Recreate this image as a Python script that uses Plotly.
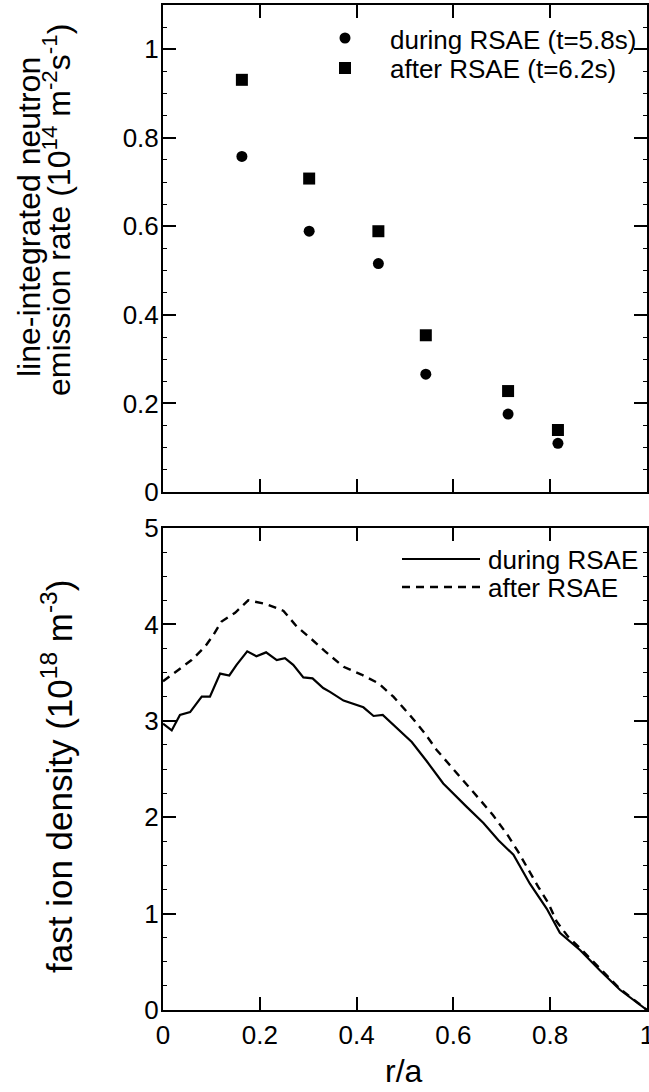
import plotly.graph_objects as go

# ---------------- data ----------------
r_emission = [0.163, 0.302, 0.445, 0.543, 0.713, 0.816]
emission_during = [0.758, 0.589, 0.516, 0.266, 0.176, 0.110]
emission_after = [0.931, 0.708, 0.589, 0.354, 0.228, 0.140]

r_density_during = [0.0, 0.018, 0.035, 0.056, 0.080, 0.097, 0.118, 0.137, 0.152, 0.174,
                    0.193, 0.213, 0.235, 0.252, 0.269, 0.290, 0.309, 0.331, 0.345, 0.373,
                    0.414, 0.435, 0.454, 0.483, 0.514, 0.545, 0.579, 0.627, 0.662, 0.693,
                    0.724, 0.758, 0.793, 0.820, 0.862, 0.903, 0.944, 1.0]
density_during = [2.97, 2.90, 3.06, 3.09, 3.25, 3.25, 3.49, 3.47, 3.58, 3.72,
                  3.67, 3.71, 3.63, 3.65, 3.58, 3.45, 3.44, 3.34, 3.30, 3.21,
                  3.14, 3.05, 3.06, 2.92, 2.78, 2.58, 2.35, 2.11, 1.94, 1.76,
                  1.61, 1.31, 1.05, 0.80, 0.62, 0.41, 0.21, 0.0]

r_density_after = [0.0, 0.032, 0.059, 0.087, 0.104, 0.121, 0.149, 0.176, 0.214, 0.249,
                   0.276, 0.304, 0.335, 0.373, 0.410, 0.445, 0.476, 0.510, 0.541, 0.565,
                   0.593, 0.627, 0.655, 0.682, 0.710, 0.734, 0.755, 0.775, 0.796, 0.813,
                   0.837, 0.862, 0.903, 0.944, 1.0]
density_after = [3.41, 3.53, 3.63, 3.77, 3.89, 4.03, 4.12, 4.25, 4.21, 4.14,
                 3.98, 3.86, 3.72, 3.56, 3.48, 3.39, 3.25, 3.06, 2.87, 2.70,
                 2.54, 2.35, 2.18, 2.02, 1.83, 1.64, 1.45, 1.28, 1.11, 0.92,
                 0.76, 0.64, 0.43, 0.22, 0.0]

x_ticks = [0, 0.2, 0.4, 0.6, 0.8, 1]
top_y_ticks = [0, 0.2, 0.4, 0.6, 0.8, 1]
bottom_y_ticks = [0, 1, 2, 3, 4, 5]
legend_top_labels = ["during RSAE (t=5.8s)", "after RSAE (t=6.2s)"]
legend_bottom_labels = ["during RSAE", "after RSAE"]

FONT = "Liberation Sans, Arial, Helvetica, sans-serif"
W, H = 649, 1092
ML, MR, MT, MB = 163, 2, 5, 82
PW, PH = W - ML - MR, H - MT - MB


def px_x(p):
    return (p - ML) / PW


def px_y(p):
    return (H - MB - p) / PH


fig = go.Figure()

fig.add_trace(go.Scatter(x=r_emission, y=emission_during, mode="markers",
                         marker=dict(symbol="circle", size=11, color="black"),
                         name=legend_top_labels[0], xaxis="x", yaxis="y"))
fig.add_trace(go.Scatter(x=r_emission, y=emission_after, mode="markers",
                         marker=dict(symbol="square", size=12, color="black"),
                         name=legend_top_labels[1], xaxis="x", yaxis="y"))
fig.add_trace(go.Scatter(x=r_density_during, y=density_during, mode="lines",
                         line=dict(color="black", width=2.2),
                         name=legend_bottom_labels[0], xaxis="x2", yaxis="y2"))
fig.add_trace(go.Scatter(x=r_density_after, y=density_after, mode="lines",
                         line=dict(color="black", width=2.4, dash="8px,6px"),
                         name=legend_bottom_labels[1], xaxis="x2", yaxis="y2"))

axis_common = dict(showline=True, linecolor="black", linewidth=2, mirror="ticks",
                   ticks="inside", ticklen=13, tickwidth=1.5, tickcolor="black",
                   showgrid=False, zeroline=False, automargin=False,
                   tickfont=dict(family=FONT, size=26, color="black"))

top_bottom_px, top_top_px = 492, 5
bot_bottom_px, bot_top_px = 1010, 528

fig.update_layout(
    template="none",
    width=W, height=H,
    margin=dict(l=ML, r=MR, t=MT, b=MB, autoexpand=False),
    paper_bgcolor="white", plot_bgcolor="white",
    showlegend=False,
    xaxis=dict(axis_common, domain=[0, 1], range=[0, 1], tickvals=x_ticks,
               showticklabels=False, anchor="y"),
    yaxis=dict(axis_common, domain=[px_y(top_bottom_px), px_y(top_top_px)], range=[0, 1.1],
               tickvals=top_y_ticks, anchor="x", ticklabelstandoff=-3,
               minor=dict(ticks="inside", ticklen=4, tickwidth=1, dtick=0.05, tickcolor="black")),
    xaxis2=dict(axis_common, domain=[0, 1], range=[0, 1], tickvals=x_ticks,
                anchor="y2", ticklabelstandoff=1, ticklabeloverflow="allow"),
    yaxis2=dict(axis_common, domain=[0, px_y(bot_top_px)], range=[0, 5],
                tickvals=bottom_y_ticks, anchor="x2", ticklabelstandoff=-3,
                minor=dict(ticks="inside", ticklen=4, tickwidth=1, dtick=0.25, tickcolor="black")),
)

title_font = dict(family=FONT, size=32, color="black")
annotations = [
    dict(text="line-integrated neutron", x=px_x(29), y=px_y(217), xref="paper", yref="paper",
         textangle=-90, showarrow=False, xanchor="center", yanchor="middle", font=title_font),
    dict(text="emission rate (10<sup>14</sup> m<sup>-2</sup>s<sup>-1</sup>)", x=px_x(57), y=px_y(210),
         xref="paper", yref="paper", textangle=-90, showarrow=False,
         xanchor="center", yanchor="middle", font=title_font),
    dict(text="fast ion density (10<sup>18</sup> m<sup>-3</sup>)", x=px_x(57), y=px_y(777),
         xref="paper", yref="paper", textangle=-90, showarrow=False,
         xanchor="center", yanchor="middle", font=dict(family=FONT, size=35, color="black")),
    dict(text="r/a", x=px_x(404), y=px_y(1071), xref="paper", yref="paper", showarrow=False,
         xanchor="center", yanchor="middle", font=dict(family=FONT, size=32, color="black")),
]

leg_font = dict(family=FONT, size=26, color="black")
annotations += [
    dict(text=legend_top_labels[0], x=px_x(388), y=px_y(40), xref="paper", yref="paper",
         showarrow=False, xanchor="left", yanchor="middle", font=leg_font),
    dict(text=legend_top_labels[1], x=px_x(388), y=px_y(69), xref="paper", yref="paper",
         showarrow=False, xanchor="left", yanchor="middle", font=leg_font),
    dict(text=legend_bottom_labels[0], x=px_x(486), y=px_y(560), xref="paper", yref="paper",
         showarrow=False, xanchor="left", yanchor="middle", font=leg_font),
    dict(text=legend_bottom_labels[1], x=px_x(486), y=px_y(588), xref="paper", yref="paper",
         showarrow=False, xanchor="left", yanchor="middle", font=leg_font),
]
fig.update_layout(annotations=annotations)

shapes = [
    dict(type="circle", xref="paper", yref="paper", xsizemode="pixel", ysizemode="pixel",
         xanchor=px_x(345), yanchor=px_y(38), x0=-5.5, x1=5.5, y0=-5.5, y1=5.5,
         fillcolor="black", line=dict(color="black", width=0)),
    dict(type="rect", xref="paper", yref="paper", xsizemode="pixel", ysizemode="pixel",
         xanchor=px_x(345), yanchor=px_y(68), x0=-6, x1=6, y0=-6, y1=6,
         fillcolor="black", line=dict(color="black", width=0)),
    dict(type="line", xref="paper", yref="paper", x0=px_x(402), x1=px_x(480),
         y0=px_y(559), y1=px_y(559), line=dict(color="black", width=2.2)),
    dict(type="line", xref="paper", yref="paper", x0=px_x(402), x1=px_x(480),
         y0=px_y(587), y1=px_y(587), line=dict(color="black", width=2.4, dash="8px,6px")),
]
fig.update_layout(shapes=shapes)

fig.write_html("out.html")
